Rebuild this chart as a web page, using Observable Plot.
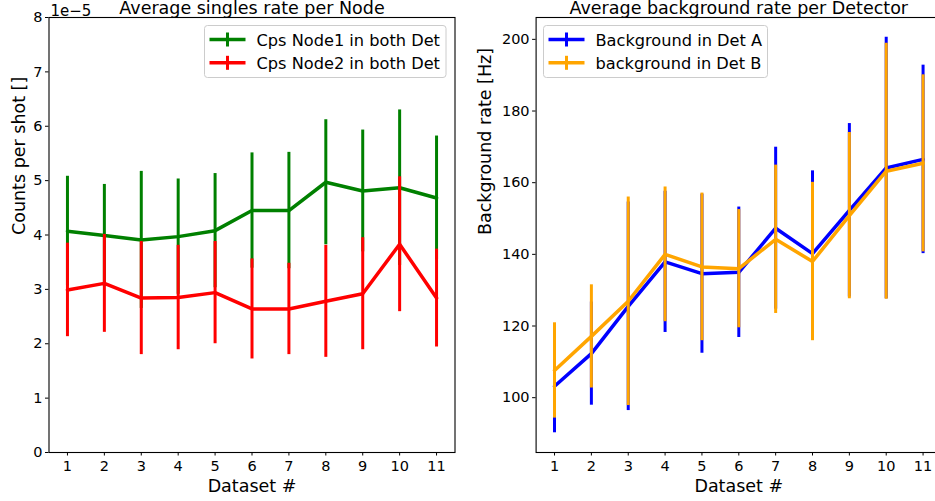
<!DOCTYPE html>
<html>
<head>
<meta charset="utf-8">
<script src="https://cdn.jsdelivr.net/npm/d3@7"></script>
<script src="https://cdn.jsdelivr.net/npm/@observablehq/plot@0.6"></script>
<style>
  html, body { margin: 0; padding: 0; background: #fff; }
  #wrap { position: relative; width: 935px; height: 501px; overflow: hidden; background: #fff; font-family: "DejaVu Sans", sans-serif; }
  #left { position: absolute; left: 0; top: 0; width: 470px; height: 501px; }
  #right { position: absolute; left: 470px; top: 0; width: 480px; height: 501px; }
  #left svg, #right svg { max-width: none !important; display: block; }
  .legend { position: absolute; top: 0; left: 0; }
</style>
</head>
<body>
<div id="wrap">
  <div id="left"></div>
  <div id="right"></div>
</div>
<script>
// ---- data ----
const datasets = [1, 2, 3, 4, 5, 6, 7, 8, 9, 10, 11];
const xTicks = [1, 2, 3, 4, 5, 6, 7, 8, 9, 10, 11];

// Left panel: average singles rate per node (counts per shot)
const node1Cps = [4.07e-5, 3.99e-5, 3.91e-5, 3.97e-5, 4.08e-5, 4.45e-5, 4.45e-5, 4.97e-5, 4.81e-5, 4.87e-5, 4.68e-5];
const node1Err = [1.01e-5, 0.94e-5, 1.26e-5, 1.06e-5, 1.05e-5, 1.06e-5, 1.07e-5, 1.15e-5, 1.12e-5, 1.43e-5, 1.14e-5];
const node2Cps = [2.99e-5, 3.11e-5, 2.84e-5, 2.85e-5, 2.94e-5, 2.64e-5, 2.64e-5, 2.78e-5, 2.92e-5, 3.83e-5, 2.84e-5];
const node2Err = [0.86e-5, 0.90e-5, 1.04e-5, 0.96e-5, 0.94e-5, 0.92e-5, 0.84e-5, 1.03e-5, 1.03e-5, 1.24e-5, 0.90e-5];
const leftYTicks = [0, 1e-5, 2e-5, 3e-5, 4e-5, 5e-5, 6e-5, 7e-5, 8e-5];

// Right panel: average background rate per detector [Hz]
const bgDetA = [103.2, 112.3, 125.5, 137.9, 134.6, 135.0, 147.3, 140.2, 152.3, 164.1, 166.5];
const bgDetAErr = [13.0, 14.4, 29.1, 19.7, 22.2, 18.2, 22.6, 23.1, 24.2, 36.5, 26.3];
const bgDetB = [107.6, 117.1, 126.9, 140.0, 136.5, 136.0, 144.2, 138.0, 150.8, 163.2, 165.4];
const bgDetBErr = [13.3, 14.4, 29.1, 18.8, 20.6, 16.5, 20.7, 22.1, 23.2, 35.7, 24.7];
const rightYTicks = [100, 120, 140, 160, 180, 200];

const seriesLabels = ["Cps Node1 in both Det", "Cps Node2 in both Det", "Background in Det A", "background in Det B"];
const seriesColors = ["green", "red", "blue", "orange"];

// ---- helpers ----
const rows = (vals, errs) => datasets.map((d, i) => ({ds: d, v: vals[i], lo: vals[i] - errs[i], hi: vals[i] + errs[i]}));
const n1 = rows(node1Cps, node1Err);
const n2 = rows(node2Cps, node2Err);
const bA = rows(bgDetA, bgDetAErr);
const bB = rows(bgDetB, bgDetBErr);

const baseStyle = {fontFamily: "DejaVu Sans, sans-serif", fontSize: "14.5px", color: "black", background: "transparent", maxWidth: "none"};

function panel({width, marginLeft, marginRight, yDomain, yTicks, yFmt, s1, s2, c1, c2, title, ylabel, ylabelDx, extra}) {
  return Plot.plot({
    width, height: 501,
    marginLeft, marginRight, marginTop: 17, marginBottom: 49,
    style: baseStyle,
    x: {domain: [0.5, 11.5]},
    y: {domain: yDomain},
    marks: [
      Plot.ruleX(s1, {x: "ds", y1: "lo", y2: "hi", stroke: c1, strokeWidth: 3}),
      Plot.lineY(s1, {x: "ds", y: "v", stroke: c1, strokeWidth: 3.5}),
      Plot.ruleX(s2, {x: "ds", y1: "lo", y2: "hi", stroke: c2, strokeWidth: 3}),
      Plot.lineY(s2, {x: "ds", y: "v", stroke: c2, strokeWidth: 3.5}),
      Plot.frame({stroke: "black", strokeWidth: 1.1}),
      Plot.axisX({ticks: xTicks, tickFormat: d => String(d), tickSize: 3.5, tickPadding: 4.5, label: null, fontSize: 14.5}),
      Plot.axisY({ticks: yTicks, tickFormat: yFmt, tickSize: 3.5, tickPadding: 3, label: null, fontSize: 14.5}),
      Plot.text([title], {frameAnchor: "top", dy: -9, lineAnchor: "middle", fontSize: 17.5}),
      Plot.text(["Dataset #"], {frameAnchor: "bottom", dy: 33.5, lineAnchor: "middle", fontSize: 17.5}),
      Plot.text([ylabel], {frameAnchor: "left", dx: ylabelDx, rotate: -90, lineAnchor: "middle", fontSize: 17.5}),
      ...(extra || [])
    ]
  });
}

const left = panel({
  width: 470, marginLeft: 48.5, marginRight: 15.5,
  yDomain: [0, 8e-5], yTicks: leftYTicks, yFmt: d => String(Math.round(d * 1e5)),
  s1: n1, s2: n2, c1: seriesColors[0], c2: seriesColors[1],
  title: "Average singles rate per Node", ylabel: "Counts per shot []", ylabelDx: -29.5,
  extra: [Plot.text(["1e\u22125"], {frameAnchor: "top-left", dx: 1.5, dy: -6.5, textAnchor: "start", lineAnchor: "middle", fontSize: 15})]
});
document.getElementById("left").appendChild(left);

const right = panel({
  width: 480, marginLeft: 65.6, marginRight: 9,
  yDomain: [84.7, 206.1], yTicks: rightYTicks, yFmt: d => String(d),
  s1: bA, s2: bB, c1: seriesColors[2], c2: seriesColors[3],
  title: "Average background rate per Detector", ylabel: "Background rate [Hz]", ylabelDx: -50.5
});
document.getElementById("right").appendChild(right);

// ---- legends (matplotlib-style boxes with errorbar glyphs) ----
function legend(box, entries) {
  const ns = "http://www.w3.org/2000/svg";
  const svg = document.createElementNS(ns, "svg");
  svg.setAttribute("class", "legend");
  svg.setAttribute("width", 935);
  svg.setAttribute("height", 501);
  let html = `<rect x="${box.x}" y="${box.y}" width="${box.w}" height="${box.h}" rx="3" ry="3" fill="white" fill-opacity="0.8" stroke="#cccccc" stroke-width="1"/>`;
  entries.forEach((e, i) => {
    const cy = box.y + 14 + i * 23.3;
    const gx0 = box.x + 5, gx1 = box.x + 41, gxm = (gx0 + gx1) / 2;
    html += `<line x1="${gx0}" x2="${gx1}" y1="${cy}" y2="${cy}" stroke="${e.color}" stroke-width="3.5"/>`;
    html += `<line x1="${gxm}" x2="${gxm}" y1="${cy - 7}" y2="${cy + 7}" stroke="${e.color}" stroke-width="3"/>`;
    html += `<text x="${box.x + 52}" y="${cy + 6}" font-family="DejaVu Sans, sans-serif" font-size="16.2" fill="black">${e.label}</text>`;
  });
  svg.innerHTML = html;
  document.getElementById("wrap").appendChild(svg);
}
legend({x: 204.5, y: 25.5, w: 241.5, h: 52}, [
  {label: seriesLabels[0], color: seriesColors[0]},
  {label: seriesLabels[1], color: seriesColors[1]}
]);
legend({x: 543.5, y: 25.5, w: 224, h: 52}, [
  {label: seriesLabels[2], color: seriesColors[2]},
  {label: seriesLabels[3], color: seriesColors[3]}
]);
</script>
</body>
</html>
